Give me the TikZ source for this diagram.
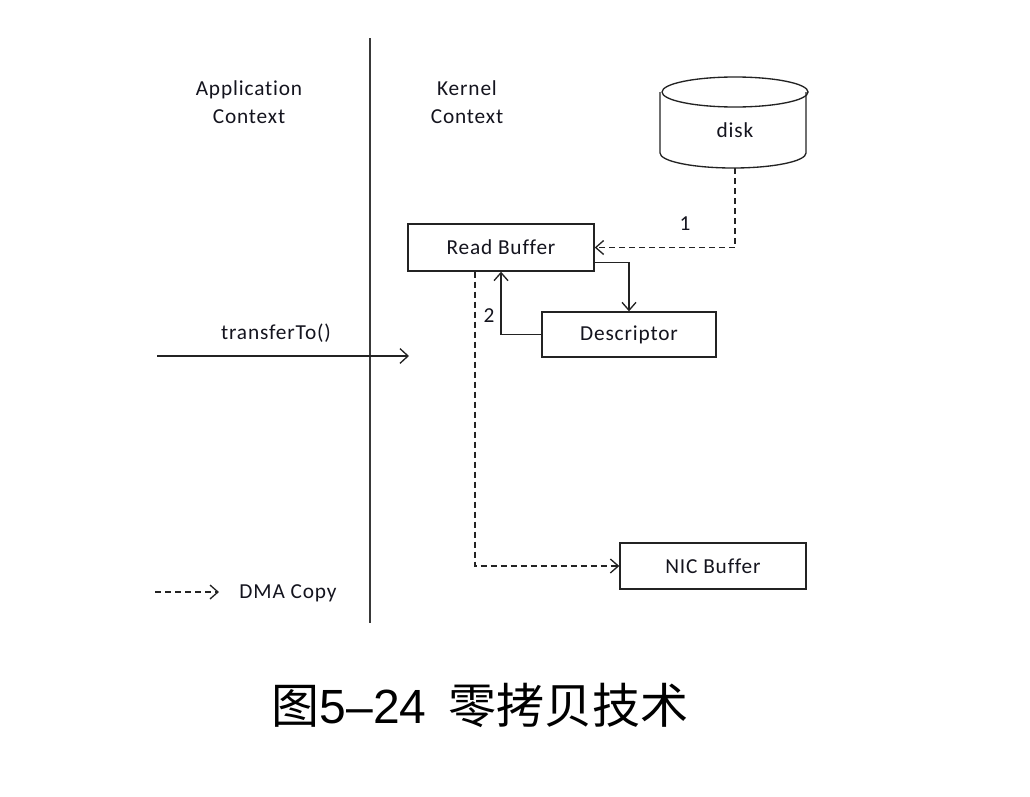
\documentclass[tikz,border=0pt]{standalone}
\usepackage{fontspec}
\setmainfont{Carlito}[Ligatures=NoCommon,LetterSpace=4]
\newfontfamily\cjk{Noto Sans CJK SC}
\newfontfamily\capnum{Liberation Sans}
\usetikzlibrary{arrows.meta,calc}
\definecolor{ink}{RGB}{20,20,30}
\definecolor{linec}{RGB}{35,35,35}
\begin{document}
\begin{tikzpicture}[x=0.75pt,y=-0.75pt,
  lbl/.style={text=ink,font=\fontsize{16pt}{21pt}\selectfont,inner sep=0pt,align=center},
  box/.style={draw=linec,line width=1pt,fill=white,text=ink,font=\fontsize{16pt}{21pt}\selectfont,inner sep=0pt},
  conn/.style={draw=linec,line width=1pt},
  dma/.style={conn,dash pattern=on 4.5pt off 3pt},
  tip/.style={-{Straight Barb[length=6pt,width=10.5pt,line width=1pt]}}
]
\useasboundingbox (0,0) rectangle (1030,796);
% divider
\coordinate (vtop) at (370,38);
\coordinate (vbot) at (370,623);
\draw[draw=linec!90,line width=1.5pt] (vtop) -- (vbot);
% headers
\node[lbl] (app) at (249,102) {Application\\Context};
\node[lbl] (ker) at (467,102) {Kernel\\Context};
% disk
\draw[conn,fill=white] (660,92) -- (660,153) arc[start angle=180,end angle=0,x radius=73,y radius=15] -- (806,92);
\draw[conn] (735,92) ellipse[x radius=73,y radius=15];
\node[lbl] (disk) at (735,130) {disk};
\coordinate (diskbot) at (735,168);
% boxes
\node[box,minimum width=139.5pt,minimum height=35.25pt] (rb) at (501,247.5) {Read Buffer};
\node[box,minimum width=130.5pt,minimum height=33.75pt] (desc) at (629,334.5) {Descriptor};
\node[box,minimum width=139.5pt,minimum height=34.5pt] (nic) at (713,566) {NIC Buffer};
% connectors
\draw[dma,tip] (diskbot) |- (rb.east);
\node[lbl] (one) at (685,224) {1};
\draw[conn,tip] ($(rb.south east)+(0,-9)$) -| (desc.north);
\draw[conn,tip] (desc.west) -| (rb.south);
\node[lbl] (two) at (489,316) {2};
\draw[dma,tip] ($(rb.south)+(-26,0)$) |- (nic.west);
% transferTo
\coordinate (tstart) at (157,356);
\coordinate (tend) at (409,356);
\draw[draw=linec,line width=1.5pt,-{Straight Barb[length=6pt,width=11pt,line width=1pt]}] (tstart) -- (tend);
\node[lbl] (tlabel) at (276,333) {transferTo()};
% legend
\coordinate (lg1) at (155,592);
\coordinate (lg2) at (219,592);
\draw[dma,tip] (lg1) -- (lg2);
\node[lbl] (lgtext) at (288,593) {DMA Copy};
% caption
\node[text=black,font=\fontsize{36pt}{40pt}\selectfont,inner sep=0pt] (cap) at (480,705) {{\cjk 图}{\capnum 5–24}\hspace{0.45em}{\cjk 零拷贝技术}};
\end{tikzpicture}
\end{document}
